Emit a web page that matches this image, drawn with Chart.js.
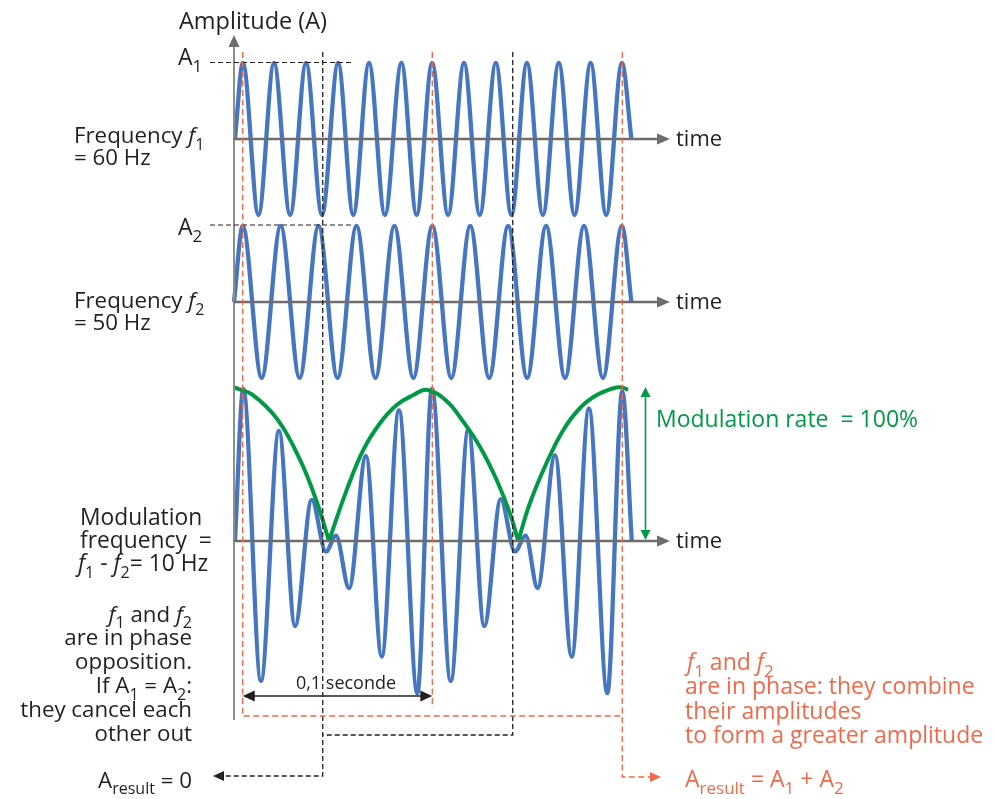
<!DOCTYPE html>
<html>
<head>
<meta charset="utf-8">
<title>Beats: 60 Hz + 50 Hz</title>
<script src="https://cdn.jsdelivr.net/npm/chart.js@4.4.1/dist/chart.umd.min.js"></script>
<style>
  html, body { margin: 0; padding: 0; background: #fff; }
  #wrap { width: 996px; height: 799px; }
</style>
</head>
<body>
<div id="wrap"><canvas id="beat" width="996" height="799"></canvas></div>
<script>
// time in ms from the amplitude axis, amplitude in units of A1 (= A2)
// f1 = 60 Hz, extremes
const f1Time = [0.5, 4.7, 12.9, 21.1, 29.6, 38.0, 46.4, 54.9, 62.9, 71.2, 79.6, 88.3, 96.3, 104.5,
                112.9, 121.3, 129.6, 138.1, 146.3, 154.5, 162.9, 171.3, 179.6, 188.1, 196.3, 204.6, 209.6];
const f1Amp  = [0, 1, -1, 1, -1, 1, -1, 1, -1, 1, -1, 1, -1, 1,
                -1, 1, -1, 1, -1, 1, -1, 1, -1, 1, -1, 1, 0];

// f2 = 50 Hz
const f2Time = [0, 4.6, 14.6, 24.6, 34.6, 44.6, 54.6, 64.6, 74.6, 84.6, 94.6, 104.6,
                114.6, 124.6, 134.6, 144.6, 154.6, 164.6, 174.6, 184.6, 194.6, 204.6, 209.6];
const f2Amp  = [0, 1, -1, 1, -1, 1, -1, 1, -1, 1, -1, 1,
                -1, 1, -1, 1, -1, 1, -1, 1, -1, 1, 0];

// f1 + f2, extremes
const sumTime = [0.5, 4.9, 14.2, 23.7, 32.2, 41.0, 48.5, 53.8, 60.7, 69.6, 77.9, 87.0, 96.7, 104.4,
                 114.3, 123.6, 132.0, 140.7, 148.2, 153.8, 160.1, 169.3, 178.1, 187.2, 196.9, 204.8, 209.8];
const sumAmp  = [0, 2.0, -1.84, 1.45, -1.12, 0.54, -0.14, 0.07, -0.62, 1.12, -1.52, 1.72, -2.0, 2.0,
                 -1.84, 1.47, -1.12, 0.55, -0.14, 0.07, -0.62, 1.13, -1.52, 1.74, -2.0, 1.97, 0];

// envelope (green), null = break at the cusps
const envTime = [0, 10.0, 23.2, 34.8, 43.6, 50.1, 50.1,
                 50.1, 59.4, 68.2, 77.0, 85.8, 94.6, 101.6, 112.2, 120.9, 129.7, 138.6, 145.6, 149.9, 149.9,
                 149.9, 156.1, 164.9, 173.7, 182.5, 191.3, 200.1, 204.5, 207.8];
const envAmp  = [2.02, 1.92, 1.59, 1.07, 0.52, 0, null,
                 0, 0.67, 1.2, 1.55, 1.79, 1.92, 1.99, 1.84, 1.57, 1.24, 0.80, 0.36, 0, null,
                 0, 0.5, 1.03, 1.46, 1.75, 1.92, 2.01, 2.02, 1.99];

const inPhaseTime = [4.6, 104.6, 204.8];   // red guides
const oppositionTime = [46.8, 147.0];      // black guides

// layout
const AXIS_X = 234, PX_PER_MS = 1.896, PX_PER_UNIT = 76;
const BASE = [139, 302, 541];   // pixel rows of the three time axes
const W = 996, H = 799;
const off = BASE.map(b => (BASE[2] - b) / PX_PER_UNIT);

const BLUE = '#4676bf', GREEN = '#009a46', RED = '#ef6a4a', INK = '#231f20', GREY = '#6d6d6d';
const FONT = '"Open Sans", "Noto Sans", sans-serif';

const toXY = (ts, vs, o) => ts.map((t, i) => ({ x: t, y: vs[i] === null ? null : vs[i] + o }));

function line(ctx, pts, color, width, dash) {
  ctx.save();
  ctx.strokeStyle = color;
  ctx.lineWidth = width;
  ctx.setLineDash(dash || []);
  ctx.beginPath();
  ctx.moveTo(pts[0][0], pts[0][1]);
  for (let i = 1; i < pts.length; i++) ctx.lineTo(pts[i][0], pts[i][1]);
  ctx.stroke();
  ctx.restore();
}

function head(ctx, x, y, dir, color, len, half) {
  const d = { up: [0, -1], down: [0, 1], left: [-1, 0], right: [1, 0] }[dir];
  ctx.save();
  ctx.fillStyle = color;
  ctx.beginPath();
  ctx.moveTo(x, y);
  ctx.lineTo(x - d[0] * len - d[1] * half, y - d[1] * len - d[0] * half);
  ctx.lineTo(x - d[0] * len + d[1] * half, y - d[1] * len + d[0] * half);
  ctx.closePath();
  ctx.fill();
  ctx.restore();
}

// ~f~ = italic, _{x} = subscript
function rich(ctx, text, x, y, align, color, size) {
  const parts = text.split(/(~[^~]+~|_\{[^}]+\})/).filter(s => s.length).map(s => {
    if (s[0] === '~') return [s.slice(1, -1), 'i'];
    if (s[0] === '_') return [s.slice(2, -1), 'sub'];
    return [s, ''];
  });
  const font = k => (k === 'i' ? 'italic ' : '') + (k === 'sub' ? Math.round(size * 0.72) : size) + 'px ' + FONT;
  let w = 0;
  parts.forEach(([s, k]) => { ctx.font = font(k); w += ctx.measureText(s).width; });
  let cx = align === 'right' ? x - w : align === 'center' ? x - w / 2 : x;
  ctx.save();
  ctx.fillStyle = color;
  ctx.textAlign = 'left';
  ctx.textBaseline = 'alphabetic';
  parts.forEach(([s, k]) => {
    ctx.font = font(k);
    ctx.fillText(s, cx, y + (k === 'sub' ? size * 0.3 : 0));
    cx += ctx.measureText(s).width;
  });
  ctx.restore();
}

const sketch = {
  id: 'sketch',
  afterDatasetsDraw(chart) {
    const ctx = chart.ctx;
    const X = t => chart.scales.x.getPixelForValue(t);

    // amplitude axis
    line(ctx, [[AXIS_X, 46], [AXIS_X, 720]], '#8e8e8e', 2);
    head(ctx, AXIS_X, 35, 'up', GREY, 12, 5.5);

    // time axes
    BASE.forEach(b => {
      line(ctx, [[AXIS_X, b], [658, b]], GREY, 2.5);
      head(ctx, 670, b, 'right', GREY, 13, 5.5);
      rich(ctx, 'time', 676, b + 7, 'left', INK, 22);
    });

    // amplitude markers
    line(ctx, [[210, 62.5], [353, 62.5]], INK, 1.2, [5, 3]);
    line(ctx, [[210, 225], [353, 225]], INK, 1.2, [5, 3]);

    // phase opposition guides
    const xo1 = X(oppositionTime[0]), xo2 = X(oppositionTime[1]);
    line(ctx, [[xo1, 52], [xo1, 776], [224, 776]], INK, 1.3, [5, 3]);
    head(ctx, 213, 776, 'left', INK, 11, 5);
    line(ctx, [[xo2, 52], [xo2, 735], [xo1, 735]], INK, 1.3, [5, 3]);

    // in phase guides
    const xp = inPhaseTime.map(X);
    line(ctx, [[xp[0], 52], [xp[0], 716], [xp[2], 716]], RED, 1.4, [6, 3.5]);
    line(ctx, [[xp[1], 52], [xp[1], 708]], RED, 1.4, [6, 3.5]);
    line(ctx, [[xp[2], 52], [xp[2], 777], [651, 777]], RED, 1.4, [6, 3.5]);
    head(ctx, 661, 777, 'right', RED, 11, 5);

    // 0,1 second span
    line(ctx, [[xp[0] + 8, 696], [xp[1] - 8, 696]], INK, 1.6);
    head(ctx, xp[0], 696, 'left', INK, 12, 5.5);
    head(ctx, xp[1], 696, 'right', INK, 12, 5.5);
    rich(ctx, '0,1 seconde', 346, 689, 'center', INK, 18);

    // modulation depth
    line(ctx, [[645.5, 395], [645.5, 532]], GREEN, 1.6);
    head(ctx, 645.5, 387, 'up', GREEN, 10, 5);
    head(ctx, 645.5, 540, 'down', GREEN, 10, 5);
    rich(ctx, 'Modulation rate  = 100%', 656, 427, 'left', GREEN, 23);

    // left labels
    rich(ctx, 'Amplitude (A)', 179, 28.5, 'left', INK, 23.5);
    rich(ctx, 'A_{1}', 178, 65, 'left', INK, 23);
    rich(ctx, 'A_{2}', 178, 235, 'left', INK, 23);
    rich(ctx, 'Frequency ~f~_{1}', 74, 143, 'left', INK, 22.3);
    rich(ctx, '= 60 Hz', 74, 165, 'left', INK, 22.3);
    rich(ctx, 'Frequency ~f~_{2}', 74, 308, 'left', INK, 22.3);
    rich(ctx, '= 50 Hz', 74, 330, 'left', INK, 22.3);
    rich(ctx, 'Modulation', 80, 525, 'left', INK, 22.8);
    rich(ctx, 'frequency  =', 80, 547.5, 'left', INK, 22.8);
    rich(ctx, '~f~_{1} - ~f~_{2}= 10 Hz', 78, 571, 'left', INK, 22.8);
    const leftNote = ['~f~_{1} and ~f~_{2}', 'are in phase', 'opposition.', 'If A_{1} = A_{2}:', 'they cancel each', 'other out'];
    leftNote.forEach((s, i) => rich(ctx, s, 192, 621.5 + i * 23.8, 'right', INK, 22.3));
    rich(ctx, 'A_{result} = 0', 192, 787.5, 'right', INK, 22.3);

    // right labels
    const rightNote = ['~f~_{1} and ~f~_{2}', 'are in phase: they combine', 'their amplitudes', 'to form a greater amplitude'];
    rightNote.forEach((s, i) => rich(ctx, s, i === 0 ? 687 : 685, 670 + i * 24.3, 'left', RED, 23));
    rich(ctx, 'A_{result} = A_{1} + A_{2}', 685, 787, 'left', RED, 23);
  }
};

const waveStyle = { borderColor: BLUE, borderWidth: 4.3, pointRadius: 0, fill: false,
                    cubicInterpolationMode: 'monotone', borderJoinStyle: 'round', order: 2 };

new Chart(document.getElementById('beat'), {
  type: 'line',
  data: {
    datasets: [
      Object.assign({ label: 'f1', data: toXY(f1Time, f1Amp, off[0]) }, waveStyle),
      Object.assign({ label: 'f2', data: toXY(f2Time, f2Amp, off[1]) }, waveStyle),
      Object.assign({ label: 'f1 + f2', data: toXY(sumTime, sumAmp, off[2]) }, waveStyle),
      { label: 'envelope', data: toXY(envTime, envAmp, 0), borderColor: GREEN, borderWidth: 4,
        pointRadius: 0, fill: false, spanGaps: false, tension: 0.4, order: 1 }
    ]
  },
  options: {
    responsive: false,
    animation: false,
    events: [],
    layout: { padding: 0 },
    plugins: { legend: { display: false }, tooltip: { enabled: false } },
    scales: {
      x: { type: 'linear', display: false, min: -AXIS_X / PX_PER_MS, max: (W - AXIS_X) / PX_PER_MS },
      y: { type: 'linear', display: false, min: -(H - BASE[2]) / PX_PER_UNIT, max: BASE[2] / PX_PER_UNIT }
    }
  },
  plugins: [sketch]
});
</script>
</body>
</html>
